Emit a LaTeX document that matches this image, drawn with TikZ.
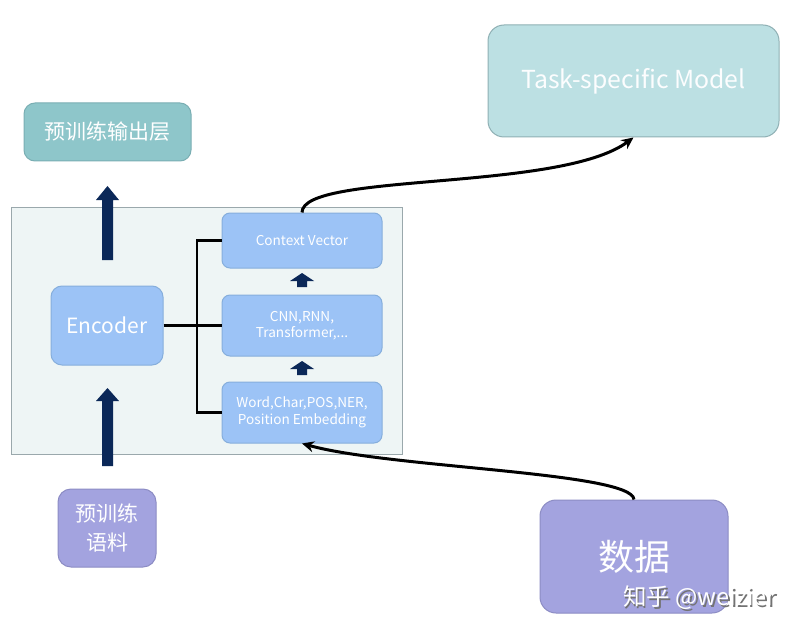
\documentclass[tikz,border=0pt]{standalone}
\usepackage{fontspec}
\setmainfont{Noto Sans CJK SC}
\usetikzlibrary{arrows.meta}
\definecolor{navy}{HTML}{0B2858}
\definecolor{bgfill}{HTML}{EEF5F5}
\definecolor{bgline}{HTML}{9AA8AC}
\definecolor{tealfill}{HTML}{8EC6CA}
\definecolor{tealline}{HTML}{7AAEB3}
\definecolor{taskfill}{HTML}{BCE0E3}
\definecolor{taskline}{HTML}{8FB0B4}
\definecolor{bluefill}{HTML}{9CC3F6}
\definecolor{blueline}{HTML}{86AEDC}
\definecolor{lavfill}{HTML}{A3A3DF}
\definecolor{lavline}{HTML}{8C8CC4}
\begin{document}
\begin{tikzpicture}[x=1pt,y=-1pt,
  box/.style={draw=#1, line width=1pt, rounded corners=11pt, text=white, inner sep=0pt, align=center},
  conn/.style={draw=black, line width=2.4pt, line join=miter},
  curve/.style={draw=black, line width=3pt, -{Stealth[length=12pt,width=11pt]}},
  blk/.style={fill=navy, draw=none}]
\useasboundingbox (0,0) rectangle (797,631);
\fill[white] (0,0) rectangle (797,631);
% container
\node[draw=bgline, fill=bgfill, line width=0.8pt, minimum width=391pt, minimum height=247pt, inner sep=0pt] (bg) at (206.5,330.5) {};
% boxes
\node[box=tealline, fill=tealfill, minimum width=167pt, minimum height=58pt, font=\fontsize{21}{25}\selectfont] (out) at (107.5,132) {预训练输出层};
\node[box=taskline, fill=taskfill, minimum width=291pt, minimum height=112pt, rounded corners=16pt, text=white!95!taskfill, font=\fontsize{24.8}{29}\selectfont] (task) at (633.5,81) {Task-specific Model};
\node[box=blueline, fill=bluefill, minimum width=112pt, minimum height=79pt, font=\fontsize{21}{25}\selectfont] (enc) at (107,325.5) {Encoder};
\node[box=blueline, fill=bluefill, minimum width=160pt, minimum height=55pt, rounded corners=8pt, font=\fontsize{13.6}{16}\selectfont] (ctx) at (302,240.5) {Context Vector};
\node[box=blueline, fill=bluefill, minimum width=160pt, minimum height=61pt, rounded corners=8pt, font=\fontsize{13.6}{15.5}\selectfont] (cnn) at (302,325.5) {CNN,RNN,\\Transformer,...};
\node[box=blueline, fill=bluefill, minimum width=160pt, minimum height=61pt, rounded corners=8pt, font=\fontsize{13.6}{16.5}\selectfont] (emb) at (302,412.5) {Word,Char,POS,NER,\\Position Embedding};
\node[box=lavline, fill=lavfill, minimum width=188pt, minimum height=113pt, rounded corners=16pt, font=\fontsize{36}{40}\selectfont] (data) at (634,556.5) {数据};
\node[box=lavline, fill=lavfill, minimum width=98pt, minimum height=78pt, rounded corners=13pt, font=\fontsize{21}{29}\selectfont] (corpus) at (107,528) {预训练\\语料};
% watermark
\node[text=black!55, font=\fontsize{23.5}{27}\selectfont] (wmshadow) at (701,599.5) {知乎 @weizier};
\node[text=white, font=\fontsize{23.5}{27}\selectfont] (wm) at (699.5,598) {知乎 @weizier};
% connectors
\coordinate (j) at (197,325.5);
\draw[conn] (enc.east) -- (cnn.west);
\draw[conn] (ctx.west) -| (j) |- (emb.west);
% block arrows
\path[blk] (102,260) -- (102,200) -- (96,200) -- (107.5,186) -- (119,200) -- (113,200) -- (113,260) -- cycle;
\path[blk] (102,466) -- (102,401) -- (96,401) -- (107.5,388) -- (119,401) -- (113,401) -- (113,466) -- cycle;
\path[blk] (297,287) -- (297,281) -- (290,281) -- (302,273) -- (314,281) -- (307,281) -- (307,287) -- cycle;
\path[blk] (297,375) -- (297,369) -- (290,369) -- (302,361) -- (314,369) -- (307,369) -- (307,375) -- cycle;
% curves
\draw[curve] (ctx.north) .. controls (302,172) and (560,192) .. (task.south);
\draw[curve] (data.north) .. controls (632,472) and (390,468) .. (emb.south);
\end{tikzpicture}
\end{document}
